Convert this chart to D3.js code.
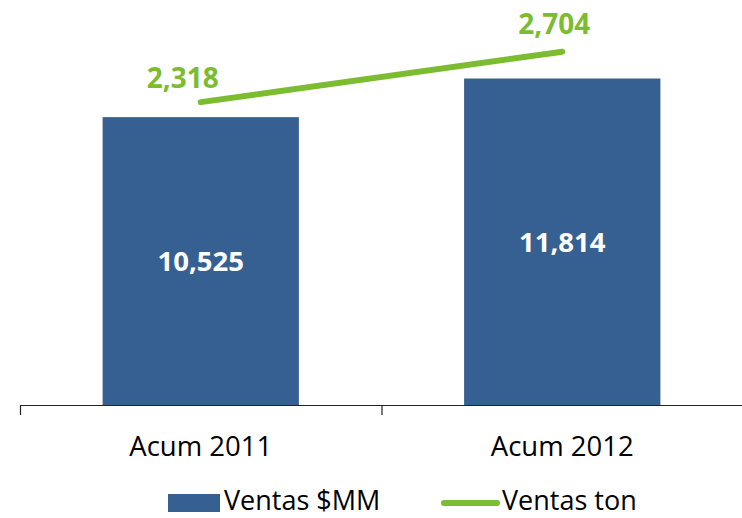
<!DOCTYPE html>
<html>
<head>
<meta charset="utf-8">
<script src="https://cdn.jsdelivr.net/npm/d3@7/dist/d3.min.js"></script>
<style>
  html, body { margin: 0; padding: 0; background: #fff; }
  svg { display: block; font-family: "Open Sans", sans-serif; }
</style>
</head>
<body>
<div id="chart"></div>
<script>
const categories = ["Acum 2011", "Acum 2012"];
const ventasMM = [10525, 11814];
const ventasTon = [2318, 2704];
const seriesNames = ["Ventas $MM", "Ventas ton"];

const width = 742, height = 518;
const baseY = 405, topY = 13;
const blue = "#376092", green = "#7cbc31";
const fmt = d3.format(",");

const svg = d3.select("#chart")
  .append("svg")
    .attr("width", width)
    .attr("height", height);

const x = d3.scaleBand()
  .domain(categories)
  .range([20, 743])
  .padding(0);

// primary axis (bars) does not start at zero in the original
const yBar = d3.scaleLinear().domain([920, 14000]).range([baseY, topY]);
const yLine = d3.scaleLinear().domain([0, 3000]).range([baseY, topY]);

const barW = x.bandwidth() * 0.543;
const cx = d => x(d) + x.bandwidth() / 2;

// bars
svg.selectAll("rect.bar")
  .data(categories)
  .enter()
  .append("rect")
    .attr("class", "bar")
    .attr("x", d => cx(d) - barW / 2)
    .attr("y", (d, i) => yBar(ventasMM[i]))
    .attr("width", barW)
    .attr("height", (d, i) => baseY - yBar(ventasMM[i]))
    .attr("fill", blue);

// bar labels
svg.selectAll("text.barLabel")
  .data(categories)
  .enter()
  .append("text")
    .attr("class", "barLabel")
    .attr("x", d => cx(d))
    .attr("y", (d, i) => (yBar(ventasMM[i]) + baseY) / 2 + 10)
    .attr("text-anchor", "middle")
    .style("fill", "white")
    .style("font-weight", "bold")
    .style("font-size", "27.5px")
    .text((d, i) => fmt(ventasMM[i]));

// axis
svg.append("line")
  .attr("x1", x.range()[0]).attr("x2", x.range()[1])
  .attr("y1", baseY + 0.5).attr("y2", baseY + 0.5)
  .attr("stroke", "#222").attr("stroke-width", 1.2);

svg.selectAll("line.tick")
  .data(categories.concat(["end"]))
  .enter()
  .append("line")
    .attr("class", "tick")
    .attr("x1", (d, i) => i < categories.length ? x(d) + 0.5 : x.range()[1])
    .attr("x2", (d, i) => i < categories.length ? x(d) + 0.5 : x.range()[1])
    .attr("y1", baseY)
    .attr("y2", baseY + 10)
    .attr("stroke", "#222").attr("stroke-width", 1.2);

svg.selectAll("text.cat")
  .data(categories)
  .enter()
  .append("text")
    .attr("class", "cat")
    .attr("x", d => cx(d))
    .attr("y", 456)
    .attr("text-anchor", "middle")
    .style("fill", "#000")
    .style("font-size", "27.5px")
    .text(d => d);

// line series
const line = d3.line()
  .x((d, i) => cx(categories[i]))
  .y(d => yLine(d));

svg.append("path")
  .datum(ventasTon)
  .attr("d", line)
  .attr("fill", "none")
  .attr("stroke", green)
  .attr("stroke-width", 6)
  .attr("stroke-linecap", "round");

// label offsets as placed in the original
const lineLabelOffset = [[-18, -14], [-8, -18]];
svg.selectAll("text.lineLabel")
  .data(ventasTon)
  .enter()
  .append("text")
    .attr("class", "lineLabel")
    .attr("x", (d, i) => cx(categories[i]) + lineLabelOffset[i][0])
    .attr("y", (d, i) => yLine(d) + lineLabelOffset[i][1])
    .attr("text-anchor", "middle")
    .style("fill", green)
    .style("font-weight", "bold")
    .style("font-size", "28px")
    .text(d => fmt(d));

// legend
const legend = svg.append("g").attr("transform", "translate(0,502)");
legend.append("rect")
  .attr("x", 168).attr("y", -8)
  .attr("width", 52).attr("height", 18)
  .attr("fill", blue);
legend.append("text")
  .attr("x", 224).attr("y", 8)
  .style("font-size", "27px")
  .text(seriesNames[0]);
legend.append("line")
  .attr("x1", 444).attr("x2", 497)
  .attr("y1", 1).attr("y2", 1)
  .attr("stroke", green)
  .attr("stroke-width", 6)
  .attr("stroke-linecap", "round");
legend.append("text")
  .attr("x", 502).attr("y", 8)
  .style("font-size", "27px")
  .text(seriesNames[1]);
</script>
</body>
</html>
